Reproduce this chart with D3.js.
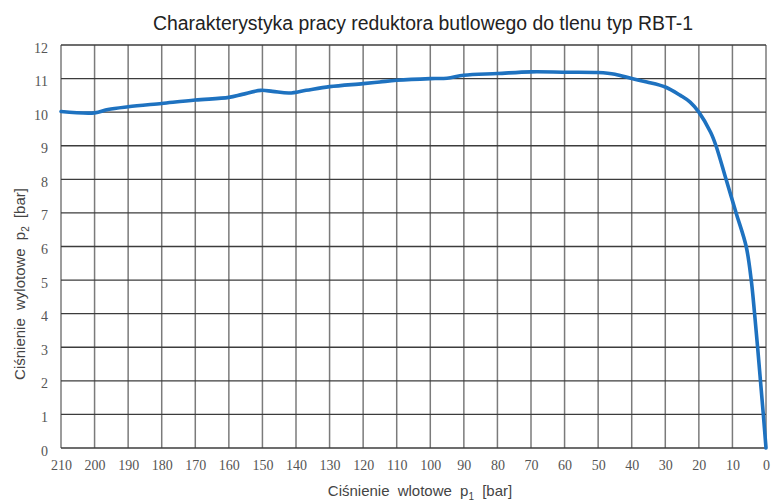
<!DOCTYPE html>
<html>
<head>
<meta charset="utf-8">
<script src="https://cdn.jsdelivr.net/npm/d3@7"></script>
<style>
  html, body { margin: 0; padding: 0; background: #fff; }
  svg { display: block; }
</style>
</head>
<body>
<svg id="chart" width="771" height="502"></svg>
<script>
// Inlet pressure p1 [bar] (descending) and the outlet pressure p2 [bar] it gives
const inletPressure = [210, 200, 196, 190, 180, 170, 160, 156, 150.5, 147, 142, 137, 130, 120, 115, 110, 100, 95, 90, 80, 70, 60, 50, 45, 40, 35.5, 30, 25.5, 22.6, 20, 16.5, 14.9, 11.9, 8.9, 5.9, 4.4, 3.4, 2.5, 1.65, 0.8, 0];
const outletPressure = [10.02, 9.98, 10.08, 10.16, 10.26, 10.36, 10.44, 10.53, 10.65, 10.62, 10.57, 10.65, 10.76, 10.85, 10.9, 10.95, 11.0, 11.01, 11.1, 11.15, 11.2, 11.19, 11.18, 11.13, 11.0, 10.9, 10.75, 10.5, 10.3, 10.0, 9.4, 9.0, 8.0, 7.0, 6.0, 5.0, 4.0, 3.0, 2.0, 1.0, 0];

const xTicks = [210, 200, 190, 180, 170, 160, 150, 140, 130, 120, 110, 100, 90, 80, 70, 60, 50, 40, 30, 20, 10, 0];
const yTicks = [0, 1, 2, 3, 4, 5, 6, 7, 8, 9, 10, 11, 12];

const titleText = "Charakterystyka pracy reduktora butlowego do tlenu typ RBT-1";

const svg = d3.select("#chart");
const margin = { left: 61, right: 5, top: 45, bottom: 54 };
const W = 771, H = 502;

const x = d3.scaleLinear().domain([210, 0]).range([margin.left, W - margin.right]);
const y = d3.scaleLinear().domain([0, 12]).range([H - margin.bottom, margin.top]);

// grid: vertical lines lighter, horizontal darker
const grid = svg.append("g");
grid.selectAll("line.v").data(xTicks).join("line")
  .attr("class", "v")
  .attr("x1", d => x(d)).attr("x2", d => x(d))
  .attr("y1", y(0)).attr("y2", y(12))
  .attr("stroke", "#7b7b7b").attr("stroke-width", 1.5);
grid.selectAll("line.h").data(yTicks).join("line")
  .attr("class", "h")
  .attr("x1", x(210)).attr("x2", x(0))
  .attr("y1", d => y(d)).attr("y2", d => y(d))
  .attr("stroke", "#3c3c3c").attr("stroke-width", 1.3);

// tick labels
const xAxis = d3.axisBottom(x).tickValues(xTicks).tickSize(0).tickPadding(12).tickFormat(d3.format("d"));
svg.append("g").attr("transform", `translate(0,${y(0)})`).call(xAxis)
  .call(g => g.select(".domain").remove())
  .call(g => g.selectAll("text")
    .attr("font-family", "'Liberation Serif', 'Times New Roman', serif")
    .attr("font-size", 14).attr("fill", "#555"));

const yAxis = d3.axisLeft(y).tickValues(yTicks).tickSize(0).tickPadding(13).tickFormat(d3.format("d"));
svg.append("g").attr("transform", `translate(${x(210)},0)`).call(yAxis)
  .call(g => g.select(".domain").remove())
  .call(g => g.selectAll("text")
    .attr("font-family", "'Liberation Serif', 'Times New Roman', serif")
    .attr("font-size", 14).attr("fill", "#555").attr("dy", "0.5em"));

// characteristic curve (centripetal Catmull-Rom copes with the near-vertical tail)
const points = inletPressure.map((p, i) => [p, outletPressure[i]]);
const line = d3.line()
  .x(d => x(d[0])).y(d => y(d[1]))
  .curve(d3.curveCatmullRom.alpha(0.5));
svg.append("path").datum(points)
  .attr("d", line)
  .attr("fill", "none")
  .attr("stroke", "#1e72c0")
  .attr("stroke-width", 3.6)
  .attr("stroke-linejoin", "round")
  .attr("stroke-linecap", "round");

// title
svg.append("text")
  .attr("x", 423).attr("y", 30)
  .attr("text-anchor", "middle")
  .attr("font-family", "'Liberation Sans', Arial, sans-serif")
  .attr("font-size", 19.4).attr("fill", "#222")
  .text(titleText);

// axis titles with subscripts
const sans = "'Liberation Sans', Arial, sans-serif";
const xTitle = svg.append("text")
  .attr("x", 420).attr("y", 496)
  .attr("text-anchor", "middle")
  .attr("font-family", sans).attr("font-size", 15).attr("fill", "#444")
  .attr("word-spacing", 4);
xTitle.append("tspan").text("Ciśnienie wlotowe p");
xTitle.append("tspan").attr("font-size", 10).attr("dy", 4).text("1");
xTitle.append("tspan").attr("dy", -4).text(" [bar]");

const yTitle = svg.append("text")
  .attr("transform", "translate(25,284) rotate(-90)")
  .attr("text-anchor", "middle")
  .attr("font-family", sans).attr("font-size", 15).attr("fill", "#444")
  .attr("word-spacing", 4);
yTitle.append("tspan").text("Ciśnienie wylotowe p");
yTitle.append("tspan").attr("font-size", 10).attr("dy", 4).text("2");
yTitle.append("tspan").attr("dy", -4).text(" [bar]");
</script>
</body>
</html>
